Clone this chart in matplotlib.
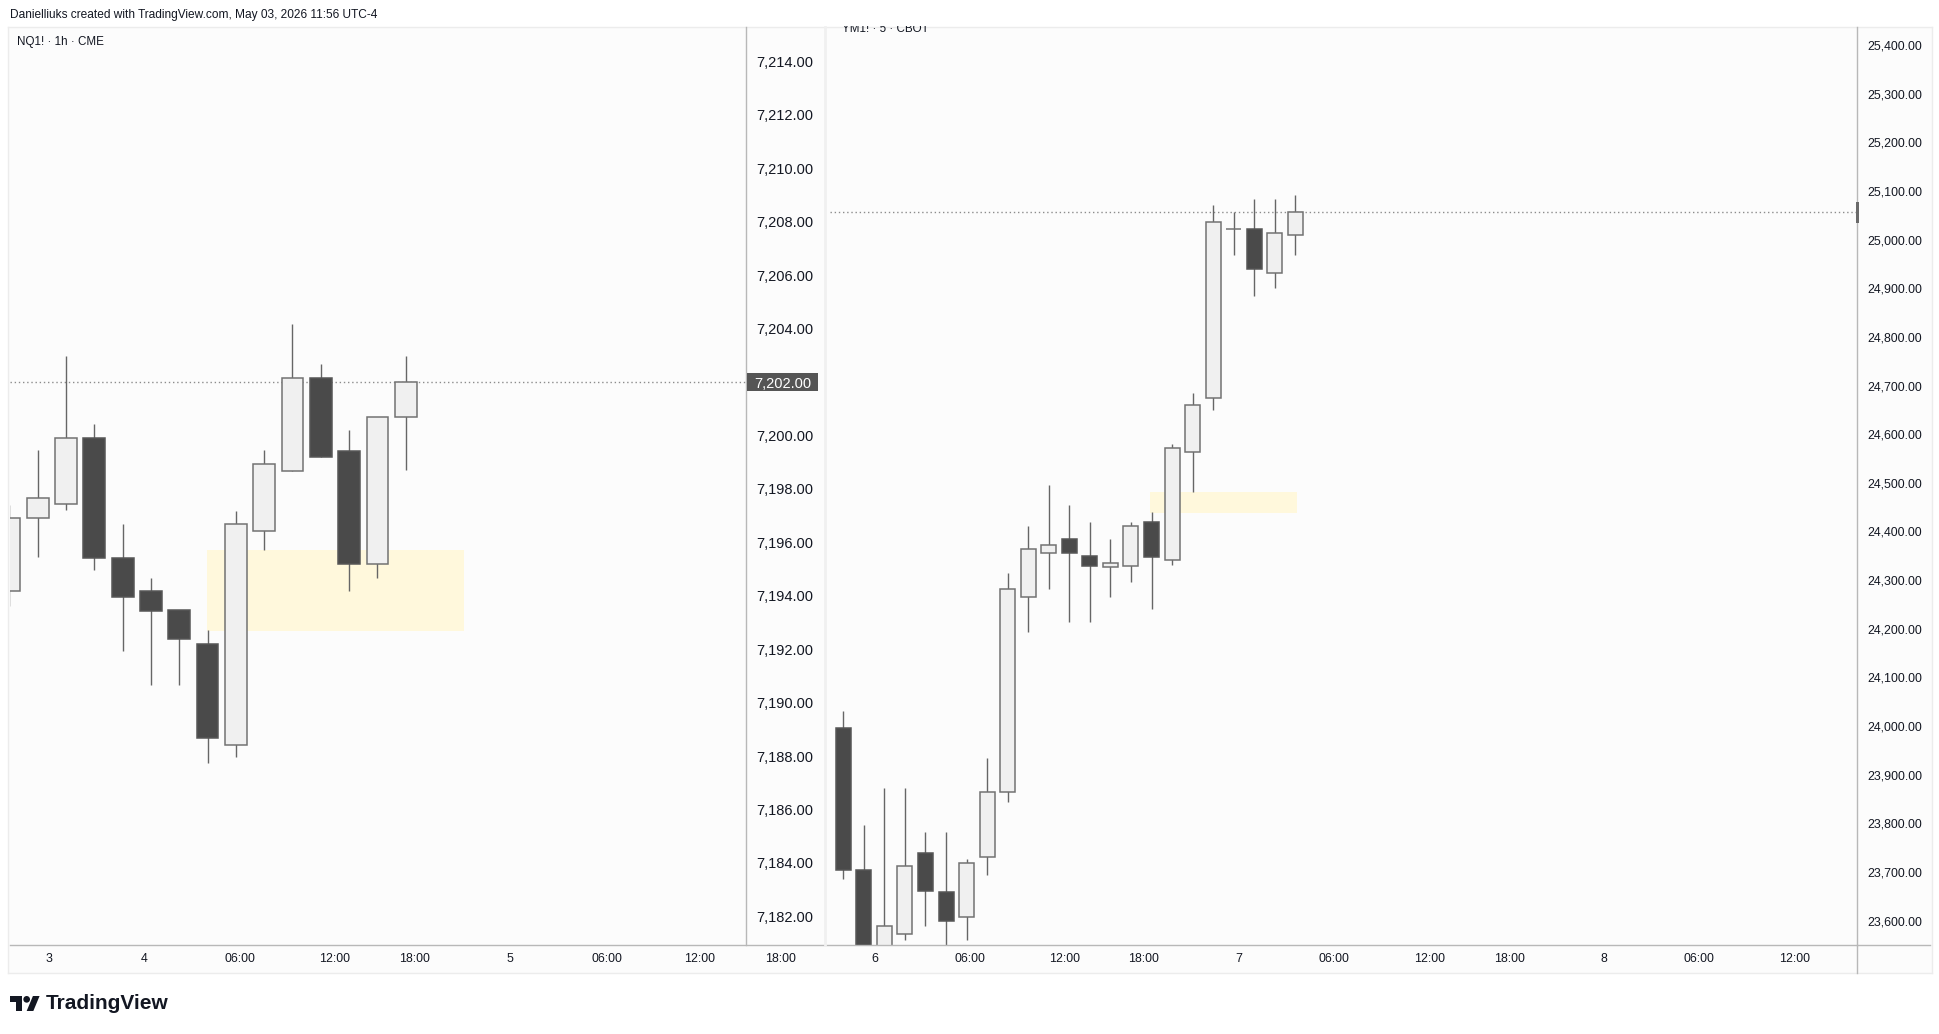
import matplotlib
matplotlib.use('Agg')
import matplotlib.pyplot as plt
import matplotlib.ticker as mticker
import matplotlib.transforms as mtrans
from matplotlib.patches import Rectangle, Polygon, Circle
from matplotlib.lines import Line2D

plt.rcParams['font.family'] = ['Liberation Sans', 'DejaVu Sans']

W, H = 1940, 1034
DPI = 100

# ---------------- data ----------------
header_text = "Danielliuks created with TradingView.com, May 03, 2026 11:56 UTC-4"
left_title = "NQ1! \u00b7 1h \u00b7 CME"
right_title = "YM1! \u00b7 5 \u00b7 CBOT"

left_open = [7194.17, 7196.90, 7197.45, 7199.92, 7195.43, 7194.18, 7193.46, 7192.20,
             7188.41, 7196.41, 7198.66, 7202.17, 7199.43, 7195.19, 7200.68]
left_high = [7197.40, 7199.44, 7202.96, 7200.44, 7196.70, 7194.68, 7193.46, 7192.71,
             7197.19, 7199.44, 7204.19, 7202.68, 7200.22, 7200.68, 7202.96]
left_low = [7193.60, 7195.45, 7197.20, 7194.96, 7191.94, 7190.68, 7190.68, 7187.73,
            7187.96, 7195.73, 7198.66, 7199.18, 7194.18, 7194.68, 7198.70]
left_close = [7196.91, 7197.67, 7199.92, 7195.41, 7193.94, 7193.44, 7192.40, 7188.68,
              7196.69, 7198.93, 7202.16, 7199.18, 7195.18, 7200.68, 7202.00]

right_open = [23996.7, 23704.8, 23525.0, 23573.3, 23739.8, 23658.4, 23607.6, 23731.6,
              23864.5, 24266.0, 24356.4, 24384.0, 24349.6, 24327.7, 24329.1, 24418.9,
              24341.4, 24564.0, 24675.0, 25021.2, 25021.2, 24932.0, 25008.8]
right_high = [24031.0, 23796.1, 23873.4, 23873.4, 23781.7, 23781.7, 23727.4, 23935.1,
              24315.3, 24411.9, 24495.6, 24453.9, 24418.9, 24384.0, 24418.9, 24440.7,
              24579.2, 24684.1, 25071.1, 25056.1, 25083.5, 25083.5, 25091.7]
right_low = [23685.7, 23490.0, 23480.0, 23560.3, 23589.7, 23530.0, 23560.3, 23693.3,
             23844.0, 24193.4, 24281.2, 24214.0, 24214.0, 24266.0, 24295.6, 24241.3,
             24330.5, 24481.8, 24649.7, 24968.3, 24884.7, 24899.9, 24968.3]
right_close = [23703.6, 23520.0, 23588.5, 23711.8, 23661.7, 23600.0, 23719.2, 23865.2,
               24281.2, 24364.7, 24371.6, 24356.4, 24329.1, 24334.6, 24411.3, 24348.2,
               24572.3, 24660.0, 25036.2, 25021.2, 24939.0, 25014.2, 25056.1]

# time-axis tick positions, in bar-index units of each pane
left_tick_pos = [1.38, 4.77, 8.14, 11.47, 14.30, 17.69, 21.11, 24.39, 27.24]
left_tick_labels = ["3", "4", "06:00", "12:00", "18:00", "5", "06:00", "12:00", "18:00"]
right_tick_pos = [1.52, 6.17, 10.76, 14.60, 19.26, 23.89, 28.54, 32.42, 37.01, 41.64, 46.28]
right_tick_labels = ["6", "06:00", "12:00", "18:00", "7", "06:00", "12:00", "18:00",
                     "8", "06:00", "12:00"]

left_price_ticks = list(range(7182, 7216, 2))
right_price_ticks = list(range(23600, 25500, 100))

# highlighted zones: (x start, x end, price low, price high)
left_zone = (6.97, 16.07, 7192.68, 7195.70)
right_zone = (14.92, 22.06, 24438.7, 24481.8)

left_last = 7202.00
right_last = 25056.1

# ---------------- style ----------------
UP_FILL, UP_EDGE = '#f0f0f0', '#727272'
DN_FILL, DN_EDGE = '#4a4a4a', '#575757'
WICK = '#666666'
TXT = '#131722'
AXLINE = '#b8b8b8'
PANE_BG = '#fcfcfc'
ZONE = '#fff8dc'


def rect(x0, y0, x1, y1):
    return [x0 / W, 1 - y1 / H, (x1 - x0) / W, (y1 - y0) / H]


fig = plt.figure(figsize=(W / DPI, H / DPI), dpi=DPI)
fig.patch.set_facecolor('white')

# container background
bg = fig.add_axes(rect(8, 27, 1932, 973))
bg.set_facecolor(PANE_BG)
bg.set_xticks([]); bg.set_yticks([])
for s in bg.spines.values():
    s.set_color('#ececec'); s.set_linewidth(1)
bg.set_zorder(-5)


def draw_candles(ax, o, h, l, c, width):
    x = list(range(len(o)))
    up = [ci >= oi for oi, ci in zip(o, c)]
    fills = [UP_FILL if u else DN_FILL for u in up]
    edges = [UP_EDGE if u else DN_EDGE for u in up]
    bottoms = [min(oi, ci) for oi, ci in zip(o, c)]
    heights = [abs(ci - oi) for oi, ci in zip(o, c)]
    ax.vlines(x, l, h, colors=WICK, linewidth=1.0, zorder=2)
    ax.bar(x, heights, width=width, bottom=bottoms, color=fills, edgecolor=edges,
           linewidth=1.1, zorder=3)


def style_pane(ax, ticks, fmt_size, pad_pt):
    ax.set_facecolor('none')
    ax.yaxis.tick_right()
    ax.set_yticks(ticks)
    ax.yaxis.set_major_formatter(mticker.FuncFormatter(lambda v, p: f"{v:,.2f}"))
    ax.tick_params(axis='y', length=0, pad=pad_pt, labelsize=fmt_size, labelcolor=TXT)
    ax.set_xticks([])
    for side in ('top', 'left', 'bottom'):
        ax.spines[side].set_visible(False)
    ax.spines['right'].set_color(AXLINE)
    ax.spines['right'].set_linewidth(1)


def time_axis(box, xlim, pos, labels):
    at = fig.add_axes(box)
    at.set_facecolor('none')
    at.set_xlim(*xlim)
    at.set_yticks([])
    at.set_xticks(pos)
    at.set_xticklabels(labels)
    at.tick_params(axis='x', length=0, pad=5, labelsize=8.9, labelcolor=TXT)
    for s in at.spines.values():
        s.set_visible(False)
    return at


# ---------- left pane ----------
axL = fig.add_axes(rect(10, 27, 746, 945))
axL.set_xlim(0.021, 26.02)
axL.set_ylim(7180.93, 7215.29)
style_pane(axL, left_price_ticks, 10.5, 7.2)
axL.add_patch(Rectangle((left_zone[0], left_zone[2]), left_zone[1] - left_zone[0],
                        left_zone[3] - left_zone[2], facecolor=ZONE, edgecolor='none', zorder=1))
axL.axhline(left_last, color='#8c8c8c', linewidth=1, linestyle=(0, (1, 2)), zorder=1.5)
draw_candles(axL, left_open, left_high, left_low, left_close, 0.77)
axL.text(7 / 736, 1 - 15 / 918, left_title, transform=axL.transAxes, fontsize=8.4,
         va='center', ha='left', color=TXT)

# last price label on left price scale
trL = mtrans.blended_transform_factory(axL.transAxes, axL.transData)
box_h = 18 / 26.72
axL.add_patch(Rectangle((1 + 1 / 736, left_last - box_h / 2), 71 / 736, box_h,
                        transform=trL, facecolor='#555555', edgecolor='none',
                        clip_on=False, zorder=10))
axL.text((782.5 - 10) / 736, left_last, f"{left_last:,.2f}", transform=trL,
         color='white', fontsize=10.5, ha='center', va='center_baseline',
         clip_on=False, zorder=11)

time_axis(rect(10, 945, 820, 946), (0.021, 28.63), left_tick_pos, left_tick_labels)

# ---------- right pane ----------
axR = fig.add_axes(rect(830, 27, 1857, 945))
axR.set_xlim(-0.647, 49.33)
axR.set_ylim(23550, 25437)
style_pane(axR, right_price_ticks, 8.9, 7.2)
axR.add_patch(Rectangle((right_zone[0], right_zone[2]), right_zone[1] - right_zone[0],
                        right_zone[3] - right_zone[2], facecolor=ZONE, edgecolor='none', zorder=1))
axR.axhline(right_last, color='#8c8c8c', linewidth=1, linestyle=(0, (1, 2)), zorder=1.5)
draw_candles(axR, right_open, right_high, right_low, right_close, 0.73)

trR = mtrans.blended_transform_factory(axR.transAxes, axR.transData)
mk_h = 21 / 0.4865
axR.add_patch(Rectangle((1 - 1 / 1027, right_last - mk_h / 2), 3 / 1027, mk_h,
                        transform=trR, facecolor='#6a6a6a', edgecolor='none',
                        clip_on=False, zorder=10))

t = fig.text(842 / W, 1 - 32 / H, right_title, fontsize=8.4, va='baseline', ha='left',
             color=TXT)
t.set_clip_box(mtrans.TransformedBbox(
    mtrans.Bbox.from_extents(830 / W, 1 - 945 / H, 1857 / W, 1 - 26 / H), fig.transFigure))

time_axis(rect(830, 945, 1930, 946), (-0.647, 52.88), right_tick_pos, right_tick_labels)

# ---------- frame lines ----------
fig.add_artist(Line2D([10 / W, 1930 / W], [1 - 945 / H, 1 - 945 / H], color=AXLINE, lw=1))
fig.add_artist(Line2D([1857 / W, 1857 / W], [1 - 945 / H, 1 - 973 / H], color=AXLINE, lw=1))
fig.add_artist(Line2D([825 / W, 825 / W], [1 - 27 / H, 1 - 945 / H], color='#f0f0f0', lw=2))

# ---------- header ----------
fig.text(10 / W, 1 - 15 / H, header_text, fontsize=8.6, va='center', ha='left', color=TXT)

# ---------- logo ----------
axLogo = fig.add_axes(rect(10, 996, 40, 1011))
axLogo.set_xlim(0, 36)
axLogo.set_ylim(22, 4)
axLogo.axis('off')
axLogo.add_patch(Polygon([(0, 4), (14, 4), (14, 22), (7, 22), (7, 11), (0, 11)],
                         closed=True, facecolor=TXT, edgecolor='none'))
axLogo.add_patch(Circle((20, 8), 4, facecolor=TXT, edgecolor='none'))
axLogo.add_patch(Polygon([(28, 22), (20, 22), (27.5, 4), (35.5, 4)],
                         closed=True, facecolor=TXT, edgecolor='none'))
fig.text(46 / W, 1 - 1003.5 / H, "TradingView", fontsize=15, fontweight='bold',
         va='center', ha='left', color=TXT)

fig.savefig('out.png', dpi=DPI, facecolor='white')
